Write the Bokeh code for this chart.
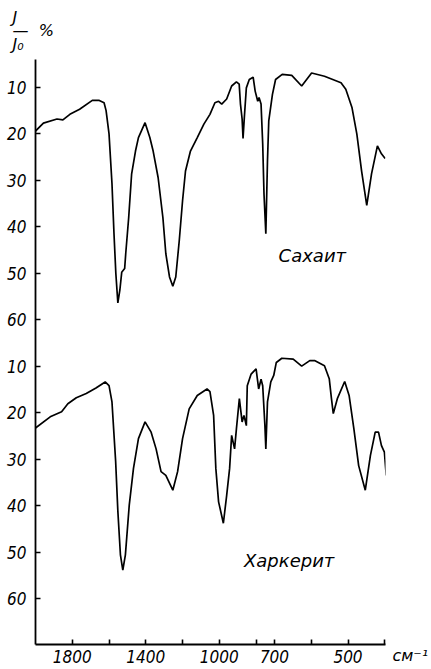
from bokeh.plotting import figure
from bokeh.models import Range1d, FixedTicker, Label, Title, LinearAxis
from bokeh.embed import file_html
from bokeh.resources import INLINE

# ---- data (wavenumber cm^-1, transmission J/J0 %) ----
sahait_wn = [2000, 1957, 1883, 1851, 1813, 1760, 1691, 1653, 1627, 1616, 1600, 1584, 1573, 1563,
             1552, 1541, 1531, 1515, 1509, 1493, 1477, 1456, 1440, 1404, 1378, 1360, 1333, 1307,
             1291, 1271, 1253, 1237, 1218, 1200, 1184, 1157, 1120, 1084, 1051, 1024, 1004, 987,
             960, 933, 907, 892, 885, 876, 871, 864, 853, 837, 816, 805, 791, 784, 773, 764, 757,
             747, 738, 731, 711, 697, 679, 653, 626, 599, 564, 519, 506, 489, 476, 463, 449, 436,
             420, 409, 399]
sahait_T = [19.4, 17.7, 16.8, 17.0, 15.8, 14.7, 12.8, 12.8, 13.3, 15.0, 20.0, 30.7, 41.5, 50.0,
            56.4, 53.6, 49.8, 49.0, 45.7, 38.0, 28.6, 23.7, 20.8, 17.6, 20.8, 23.7, 29.4, 38.0,
            45.8, 50.8, 52.8, 50.8, 43.0, 34.4, 28.0, 23.7, 20.8, 17.9, 15.8, 13.3, 13.0, 13.6,
            12.5, 9.7, 8.8, 9.3, 13.6, 16.8, 21.0, 16.5, 10.1, 8.3, 7.8, 10.8, 13.0, 12.2, 13.6,
            22.2, 32.9, 41.5, 25.8, 17.2, 11.5, 8.3, 7.2, 7.4, 9.7, 6.9, 7.6, 9.0, 10.4, 14.4,
            20.0, 28.0, 35.4, 28.6, 22.6, 24.3, 25.3]

harkerit_wn = [2000, 1920, 1858, 1824, 1778, 1724, 1671, 1621, 1600, 1584, 1564, 1552, 1538, 1525,
               1511, 1490, 1467, 1440, 1404, 1371, 1344, 1317, 1291, 1253, 1227, 1200, 1164, 1120,
               1067, 1051, 1031, 1019, 1004, 978, 960, 944, 933, 917, 907, 891, 876, 866, 853,
               848, 827, 800, 786, 773, 764, 752, 747, 738, 720, 704, 695, 680, 649, 626, 604,
               591, 564, 551, 545, 540, 529, 509, 497, 484, 471, 453, 439, 426, 417, 409, 401, 396]
harkerit_T = [23.3, 20.9, 19.8, 18.1, 16.8, 15.9, 14.7, 13.4, 14.2, 17.7, 30.5, 41.2, 50.6, 53.9,
              50.6, 39.9, 32.0, 25.6, 22.0, 24.2, 27.8, 32.7, 33.5, 36.7, 32.7, 25.6, 19.2, 16.3,
              14.9, 15.5, 20.6, 32.0, 39.2, 43.8, 37.8, 32.0, 24.9, 27.8, 23.5, 17.0, 22.0, 20.6,
              22.8, 14.2, 11.7, 10.6, 14.9, 12.8, 14.2, 22.8, 27.8, 17.7, 13.4, 12.0, 9.2, 8.3,
              8.5, 10.0, 8.8, 8.8, 9.9, 12.7, 17.0, 20.2, 17.0, 13.3, 16.3, 23.5, 31.4, 36.7,
              29.2, 24.2, 24.2, 27.1, 28.5, 33.5]

x_tick_wn = [1800, 1600, 1400, 1200, 1000, 800, 700, 600, 500, 400]
x_tick_labels = ["1800", "", "1400", "", "1000", "", "700", "", "500", ""]
y_tick_values = [10, 20, 30, 40, 50, 60]
OFFSET = 60  # vertical shift of the lower spectrum (Харкерит)
names = ["Сахаит", "Харкерит"]
name_pos = [(597, 46.2), (660, 111.8)]  # (cm^-1, %) of the spectrum names
unit_label = "\nсм\u207b\u00b9"
y_title = "J\n\u2014\u00a0\u00a0%\nJ\u2080"

Y_TOP, Y_BOTTOM = 4.0, 129.9


def wn_to_u(w):
    """Spectrometer abscissa: the scale doubles below 700 cm^-1."""
    return (2000 - w) if w >= 700 else 1300 + 2 * (700 - w)


FONT = "'Liberation Sans Narrow', 'DejaVu Sans Condensed', 'Liberation Sans', sans-serif"
FONT2 = "'DejaVu Sans', sans-serif"

p = figure(width=431, height=669, output_backend="svg", toolbar_location=None,
           x_range=Range1d(0, 1904), y_range=Range1d(Y_BOTTOM, Y_TOP),
           min_border_left=35, min_border_right=39, min_border_top=58, min_border_bottom=25)
p.outline_line_color = None
p.xgrid.visible = False
p.ygrid.visible = False
p.background_fill_color = "white"
p.border_fill_color = "white"

p.line([wn_to_u(w) for w in sahait_wn], sahait_T, line_width=1.7, color="black")
p.line([wn_to_u(w) for w in harkerit_wn], [t + OFFSET for t in harkerit_T],
       line_width=1.7, color="black")

# axes
xt = [wn_to_u(w) for w in x_tick_wn]
p.xaxis.ticker = FixedTicker(ticks=xt)
p.xaxis.major_label_overrides = {u: lbl for u, lbl in zip(xt, x_tick_labels)}
yt = y_tick_values + [v + OFFSET for v in y_tick_values]
p.yaxis.ticker = FixedTicker(ticks=yt)
p.yaxis.major_label_overrides = {v + OFFSET: str(v) for v in y_tick_values}

for ax in (p.xaxis, p.yaxis):
    ax.axis_line_width = 1.8
    ax.axis_line_color = "black"
    ax.major_tick_in = 5
    ax.major_tick_out = 0
    ax.major_tick_line_width = 1.6
    ax.major_tick_line_color = "black"
    ax.minor_tick_line_color = None
    ax.major_label_text_font = FONT
    ax.major_label_text_font_style = "italic"
    ax.major_label_text_color = "black"
    ax.major_label_text_font_size = "17px"
p.xaxis.major_label_standoff = 5
p.yaxis.major_label_standoff = 9

# unit cm^-1 at the right end of the abscissa
p.extra_y_ranges = {"unit": Range1d(Y_BOTTOM, Y_TOP)}
ra = LinearAxis(y_range_name="unit", ticker=FixedTicker(ticks=[Y_BOTTOM]),
                major_label_overrides={Y_BOTTOM: unit_label},
                axis_line_color=None, major_tick_line_color=None, minor_tick_line_color=None,
                major_label_standoff=1, major_label_text_font=FONT2,
                major_label_text_font_style="italic", major_label_text_font_size="16px",
                major_label_text_color="black")
p.add_layout(ra, "right")

# spectrum names
for nm, (w, t) in zip(names, name_pos):
    p.add_layout(Label(x=wn_to_u(w), y=t, text=nm, text_font=FONT2, text_font_size="18px",
                       text_font_style="italic", text_align="center", text_baseline="middle",
                       text_color="black"))

# y-axis title  J/J0 %  above the frame, left of it
p.add_layout(Title(text=y_title, align="left", offset=-23, standoff=11, text_font=FONT2,
                   text_font_size="16px", text_font_style="italic", text_color="black",
                   text_line_height=0.72), "above")

open("out.html", "w").write(file_html(p, INLINE))
